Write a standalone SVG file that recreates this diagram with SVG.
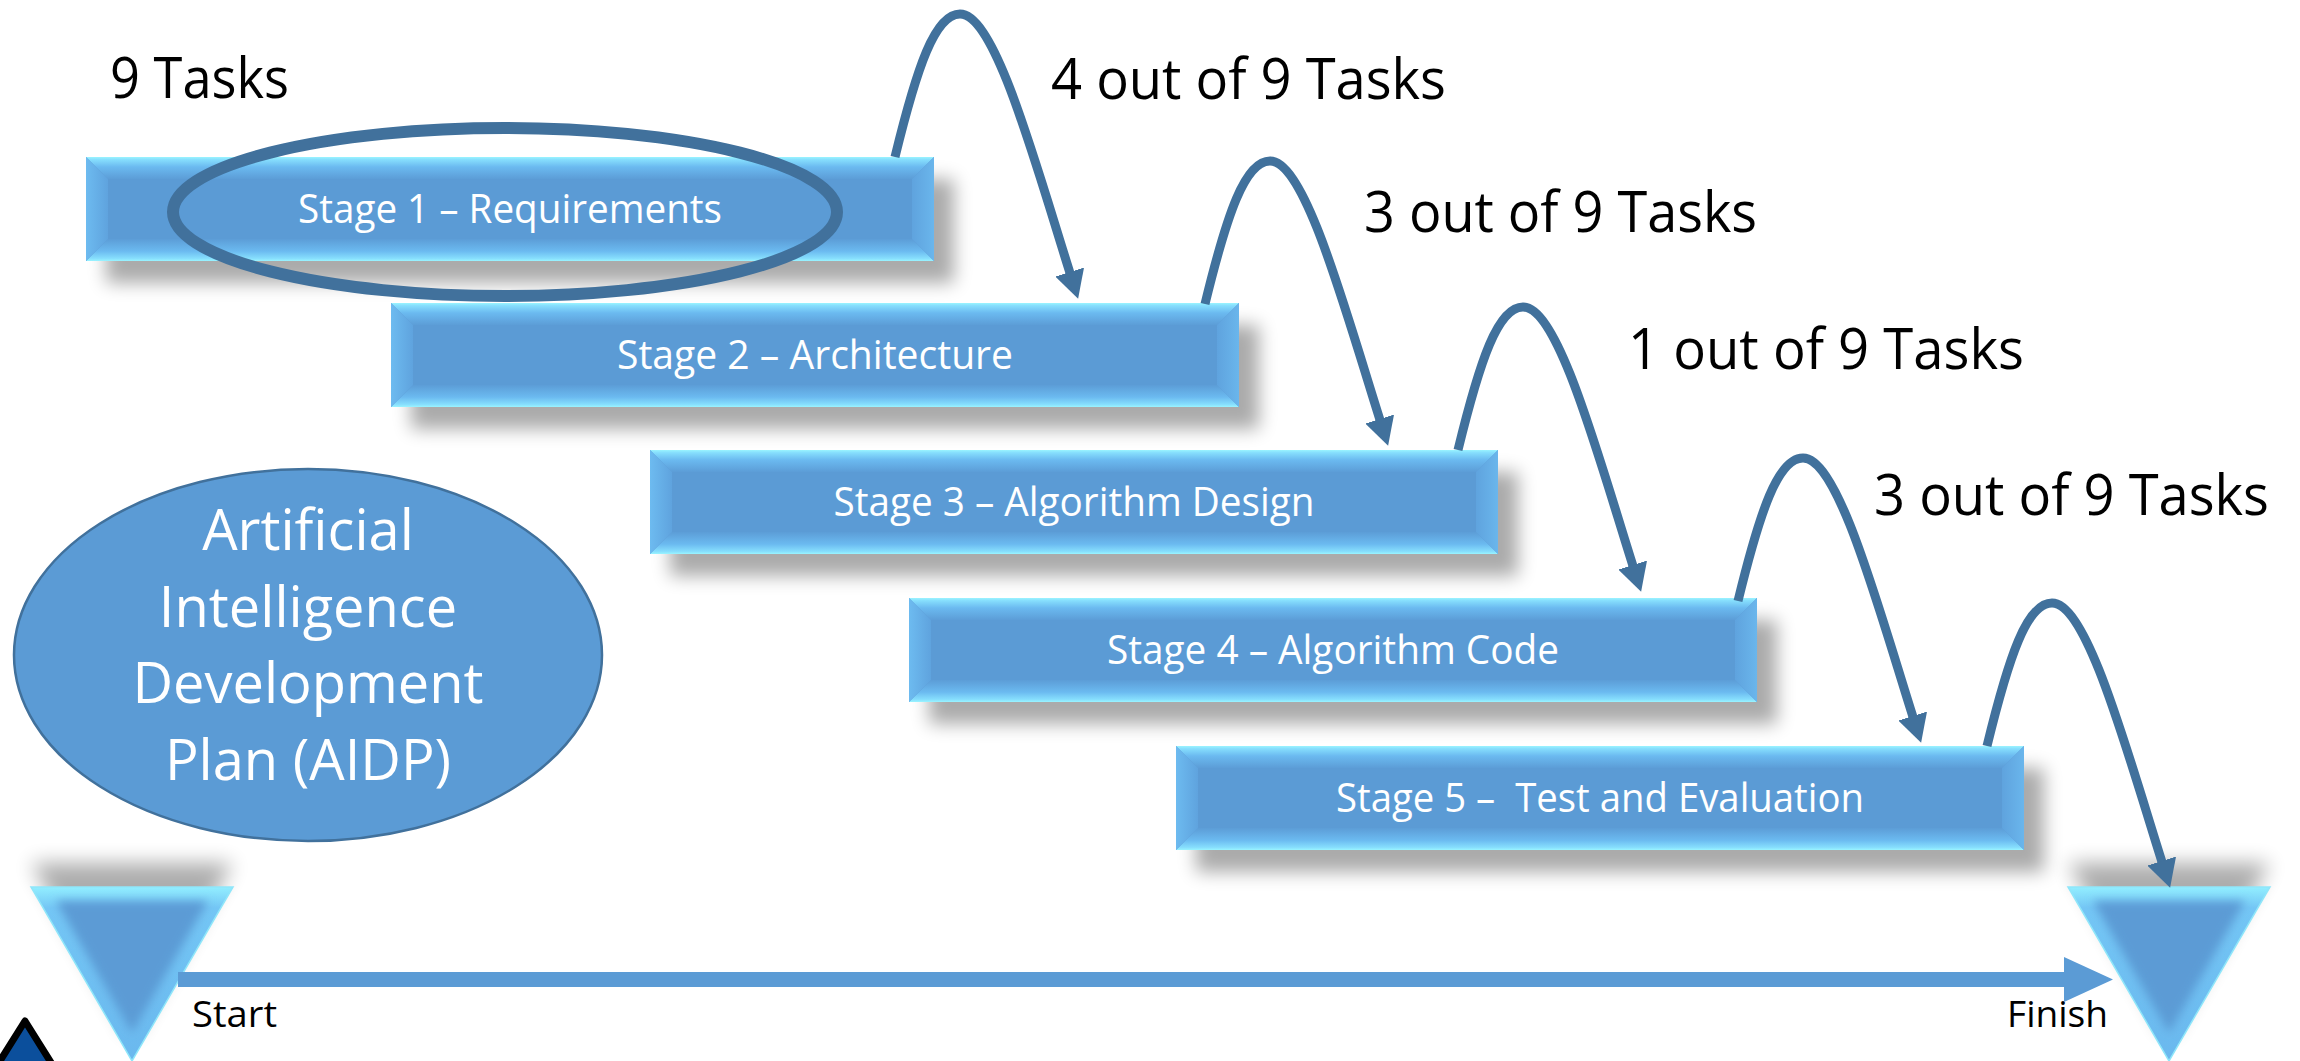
<svg xmlns="http://www.w3.org/2000/svg" xmlns:xlink="http://www.w3.org/1999/xlink" width="2300" height="1061" viewBox="0 0 2300 1061">
  <style>
    .stage-text { font-family: "Open Sans", "Liberation Sans", sans-serif; font-size: 40px; fill: #FFFFFF; text-anchor: middle; }
    .label { font-family: "Open Sans", "Liberation Sans", sans-serif; font-size: 56px; fill: #000000; }
    .axis-text { font-family: "Open Sans", "Liberation Sans", sans-serif; font-size: 36px; fill: #000000; }
    .plan-text { font-family: "Open Sans", "Liberation Sans", sans-serif; font-size: 56px; fill: #FFFFFF; text-anchor: middle; }
    .hop { fill: none; stroke: #41719C; stroke-width: 9; marker-end: url(#ah); }
    .shadow { fill: #000000; opacity: 0.33; filter: url(#soft); }
    .face { fill: #5B9BD5; }
  </style>
  <defs>
    <linearGradient id="bevTop" x1="0" y1="0" x2="0" y2="1">
      <stop offset="0" stop-color="#9AF4FF"/>
      <stop offset="0.12" stop-color="#86DEFD"/>
      <stop offset="0.45" stop-color="#6BBAF0"/>
      <stop offset="1" stop-color="#5C9DD7"/>
    </linearGradient>
    <linearGradient id="bevBot" x1="0" y1="0" x2="0" y2="1">
      <stop offset="0" stop-color="#5C9DD7"/>
      <stop offset="0.55" stop-color="#6BBAF0"/>
      <stop offset="0.88" stop-color="#86DEFD"/>
      <stop offset="1" stop-color="#9AF4FF"/>
    </linearGradient>
    <linearGradient id="bevL" x1="0" y1="0" x2="1" y2="0">
      <stop offset="0" stop-color="#6DBBF0"/>
      <stop offset="1" stop-color="#5FA3DE"/>
    </linearGradient>
    <linearGradient id="bevR" x1="0" y1="0" x2="1" y2="0">
      <stop offset="0" stop-color="#5FA3DE"/>
      <stop offset="1" stop-color="#6AB6EC"/>
    </linearGradient>
    <linearGradient id="triBevel" x1="0" y1="0" x2="0" y2="1">
      <stop offset="0" stop-color="#92EEFF"/>
      <stop offset="0.12" stop-color="#74C6F5"/>
      <stop offset="1" stop-color="#6AB8EE"/>
    </linearGradient>
    <filter id="soft" x="-10%" y="-60%" width="120%" height="220%">
      <feGaussianBlur stdDeviation="9"/>
    </filter>
    <filter id="triSoft" x="-30%" y="-30%" width="160%" height="160%">
      <feGaussianBlur stdDeviation="10"/>
    </filter>
    <filter id="innerSoft" x="-20%" y="-20%" width="140%" height="140%">
      <feGaussianBlur stdDeviation="5"/>
    </filter>
    <marker id="ah" markerUnits="userSpaceOnUse" markerWidth="28" markerHeight="30" viewBox="0 0 28 30" refX="1" refY="15" orient="auto">
      <path d="M0,0 L28,15 L0,30 z" fill="#41719C"/>
    </marker>
    <!-- bevelled stage bar, 848 x 104 -->
    <g id="bar">
      <rect class="shadow" x="20" y="22" width="848" height="104"/>
      <rect class="face" width="848" height="104"/>
      <polygon points="0,0 848,0 826,22 22,22" fill="url(#bevTop)"/>
      <polygon points="0,104 848,104 826,82 22,82" fill="url(#bevBot)"/>
      <polygon points="0,0 22,22 22,82 0,104" fill="url(#bevL)"/>
      <polygon points="848,0 826,22 826,82 848,104" fill="url(#bevR)"/>
    </g>
    <!-- bevelled downward triangle centred on x=0, top edge at y=0 -->
    <g id="marker-tri">
      <polygon points="-101,-24 101,-24 0,150" fill="#000000" opacity="0.32" filter="url(#triSoft)"/>
      <polygon points="-101,0 101,0 0,174" fill="url(#triBevel)" stroke="#8FE6FA" stroke-width="1.5"/>
      <polygon points="-76,14 76,14 0,146" fill="#5B9BD5" filter="url(#innerSoft)"/>
    </g>
  </defs>

  <rect width="2300" height="1061" fill="#FFFFFF"/>

  <!-- stages -->
  <g id="stage1" transform="translate(86,157)">
    <use href="#bar"/>
    <text class="stage-text" x="424" y="66" textLength="424" lengthAdjust="spacingAndGlyphs">Stage 1 – Requirements</text>
  </g>
  <g id="stage2" transform="translate(391,303)">
    <use href="#bar"/>
    <text class="stage-text" x="424" y="66" textLength="396" lengthAdjust="spacingAndGlyphs">Stage 2 – Architecture</text>
  </g>
  <g id="stage3" transform="translate(650,450)">
    <use href="#bar"/>
    <text class="stage-text" x="424" y="66" textLength="481" lengthAdjust="spacingAndGlyphs">Stage 3 – Algorithm Design</text>
  </g>
  <g id="stage4" transform="translate(909,598)">
    <use href="#bar"/>
    <text class="stage-text" x="424" y="66" textLength="452" lengthAdjust="spacingAndGlyphs">Stage 4 – Algorithm Code</text>
  </g>
  <g id="stage5" transform="translate(1176,746)">
    <use href="#bar"/>
    <text class="stage-text" x="424" y="66" textLength="528" lengthAdjust="spacingAndGlyphs" xml:space="preserve">Stage 5 –  Test and Evaluation</text>
  </g>

  <!-- highlight ring around the first stage -->
  <g id="stage1-highlight">
    <ellipse cx="505" cy="212" rx="332" ry="84" fill="none" stroke="#41719C" stroke-width="12"/>
  </g>

  <!-- plan bubble -->
  <g id="aidp">
    <ellipse cx="308" cy="655" rx="294" ry="186" fill="#5B9BD5" stroke="#41719C" stroke-width="2.5"/>
    <text class="plan-text" x="308" y="550">Artificial</text>
    <text class="plan-text" x="308" y="627">Intelligence</text>
    <text class="plan-text" x="308" y="703">Development</text>
    <text class="plan-text" x="308" y="780">Plan (AIDP)</text>
  </g>

  <!-- start / finish markers -->
  <g id="start">
    <use href="#marker-tri" transform="translate(132,887)"/>
    <text class="axis-text" x="192" y="1027" textLength="85" lengthAdjust="spacingAndGlyphs">Start</text>
  </g>
  <g id="finish">
    <use href="#marker-tri" transform="translate(2169,887)"/>
    <text class="axis-text" x="2007" y="1027" textLength="101" lengthAdjust="spacingAndGlyphs">Finish</text>
  </g>

  <!-- task counts -->
  <g id="labels">
    <text class="label" x="110" y="98" textLength="179" lengthAdjust="spacingAndGlyphs">9 Tasks</text>
    <text class="label" x="1051" y="99" textLength="395" lengthAdjust="spacingAndGlyphs">4 out of 9 Tasks</text>
    <text class="label" x="1364" y="232" textLength="393" lengthAdjust="spacingAndGlyphs">3 out of 9 Tasks</text>
    <text class="label" x="1628" y="369" textLength="396" lengthAdjust="spacingAndGlyphs">1 out of 9 Tasks</text>
    <text class="label" x="1874" y="515" textLength="395" lengthAdjust="spacingAndGlyphs">3 out of 9 Tasks</text>
  </g>

  <!-- connectors: hops between stages and the time axis -->
  <g id="connectors">
    <path class="hop" transform="translate(895,157)" d="M0,0 C22,-90 40,-143 65,-143 C100,-143 139,2 175,116"/>
    <path class="hop" transform="translate(1205,304)" d="M0,0 C22,-90 40,-143 65,-143 C100,-143 139,2 175,116"/>
    <path class="hop" transform="translate(1458,450)" d="M0,0 C22,-90 40,-143 65,-143 C100,-143 139,2 175,116"/>
    <path class="hop" transform="translate(1738,601)" d="M0,0 C22,-90 40,-143 65,-143 C100,-143 139,2 175,116"/>
    <path class="hop" transform="translate(1987,746)" d="M0,0 C22,-90 40,-143 65,-143 C100,-143 139,2 175,116"/>
    <line x1="178" y1="979.5" x2="2066" y2="979.5" stroke="#5B9BD5" stroke-width="15"/>
    <polygon points="2064,957 2113,979.5 2064,1002" fill="#5B9BD5"/>
  </g>

  <!-- corner badge, partly off the page -->
  <g id="corner-badge">
    <polygon points="25,1021 82,1112 -32,1112" fill="none" stroke="#FFFFFF" stroke-width="16" stroke-linejoin="round"/>
    <polygon points="25,1021 82,1112 -32,1112" fill="#0B4F9C" stroke="#000000" stroke-width="7" stroke-linejoin="round"/>
  </g>
</svg>
